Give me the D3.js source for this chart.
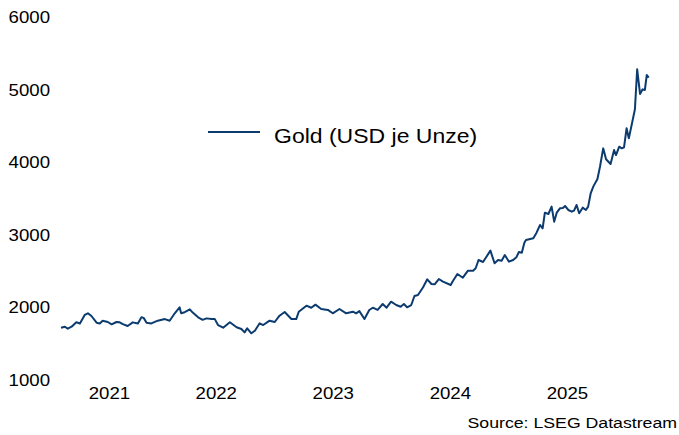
<!DOCTYPE html>
<html>
<head>
<meta charset="utf-8">
<script src="https://cdn.jsdelivr.net/npm/d3@7"></script>
<style>
  body { margin: 0; background: #fff; }
  text { font-family: "Liberation Sans", Arial, sans-serif; fill: #000; }
</style>
</head>
<body>
<div id="chart"></div>
<script>
const width = 679
const height = 435
const stretch = 1.15 // the original text is drawn a bit wider than normal

const dates = [
  '2021-03-05', '2021-03-17', '2021-03-26', '2021-04-07', '2021-04-22', '2021-05-03', '2021-05-18', '2021-05-28',
  '2021-06-08', '2021-06-24', '2021-07-04', '2021-07-13', '2021-07-29', '2021-08-10', '2021-08-25', '2021-09-04',
  '2021-09-14', '2021-09-29', '2021-10-15', '2021-10-31', '2021-11-11', '2021-11-18', '2021-11-27', '2021-12-12',
  '2022-01-01', '2022-01-23', '2022-02-07', '2022-02-23', '2022-03-10', '2022-03-15', '2022-03-26', '2022-04-11',
  '2022-04-20', '2022-05-07', '2022-05-21', '2022-06-02', '2022-06-18', '2022-06-28', '2022-07-08', '2022-07-24',
  '2022-08-14', '2022-09-04', '2022-09-19', '2022-09-29', '2022-10-07', '2022-10-20', '2022-10-31', '2022-11-15',
  '2022-11-26', '2022-12-16', '2023-01-01', '2023-01-16', '2023-02-01', '2023-02-22', '2023-03-09', '2023-03-17',
  '2023-04-10', '2023-04-25', '2023-05-08', '2023-05-26', '2023-06-16', '2023-07-01', '2023-07-22', '2023-08-12',
  '2023-09-02', '2023-09-12', '2023-09-22', '2023-10-08', '2023-10-23', '2023-11-03', '2023-11-18', '2023-12-04',
  '2023-12-16', '2023-12-30', '2024-01-15', '2024-01-29', '2024-02-08', '2024-02-18', '2024-03-02', '2024-03-12',
  '2024-03-23', '2024-04-08', '2024-04-21', '2024-05-04', '2024-05-14', '2024-05-27', '2024-06-09', '2024-07-03',
  '2024-07-10', '2024-07-24', '2024-08-10', '2024-08-26', '2024-09-11', '2024-09-19', '2024-09-28', '2024-10-12',
  '2024-11-04', '2024-11-17', '2024-11-28', '2024-12-09', '2024-12-19', '2025-01-01', '2025-01-14', '2025-01-24',
  '2025-02-01', '2025-02-10', '2025-02-18', '2025-02-23', '2025-03-18', '2025-03-28', '2025-04-08', '2025-04-16',
  '2025-04-23', '2025-05-04', '2025-05-14', '2025-05-22', '2025-05-30', '2025-06-09', '2025-06-18', '2025-06-25',
  '2025-07-05', '2025-07-16', '2025-07-23', '2025-07-31', '2025-08-08', '2025-08-19', '2025-08-29', '2025-09-05',
  '2025-09-13', '2025-09-21', '2025-10-04', '2025-10-12', '2025-10-22', '2025-10-31', '2025-11-14', '2025-11-25',
  '2025-12-01', '2025-12-11', '2025-12-19', '2025-12-26', '2026-01-03', '2026-01-10', '2026-01-29', '2026-02-05',
  '2026-02-14', '2026-02-22', '2026-03-01', '2026-03-07', '2026-03-13'
]

const gold = [
  1721, 1735, 1708, 1735, 1796, 1780, 1897, 1920,
  1883, 1790, 1780, 1818, 1800, 1768, 1800, 1795,
  1770, 1745, 1795, 1780, 1865, 1857, 1790, 1780,
  1818, 1840, 1818, 1920, 2003, 1920, 1935, 1975,
  1930, 1865, 1830, 1850, 1840, 1840, 1758, 1721,
  1796, 1727, 1703, 1657, 1713, 1644, 1680, 1782,
  1758, 1818, 1800, 1887, 1938, 1841, 1840, 1942,
  2025, 1997, 2039, 1979, 1967, 1920, 1979, 1920,
  1942, 1920, 1950, 1841, 1965, 1997, 1966, 2048,
  1997, 2080, 2034, 2011, 2048, 2003, 2034, 2159,
  2172, 2279, 2389, 2324, 2320, 2393, 2356, 2310,
  2365, 2462, 2411, 2508, 2508, 2541, 2655, 2628,
  2784, 2610, 2655, 2645, 2724, 2632, 2655, 2692,
  2766, 2756, 2894, 2931, 2954, 3032, 3138, 3092,
  3308, 3290, 3391, 3184, 3308, 3368, 3372, 3400,
  3345, 3322, 3336, 3414, 3299, 3377, 3345, 3391,
  3575, 3667, 3773, 3942, 4195, 4044, 3979, 4172,
  4103, 4218, 4195, 4210, 4472, 4333, 4734, 5285,
  4945, 5009, 5000, 5207, 5170
]

const yTicks = [1000, 2000, 3000, 4000, 5000, 6000]
const yearLabels = ['2021', '2022', '2023', '2024', '2025']
const seriesName = 'Gold (USD je Unze)'
const source = 'Source: LSEG Datastream'

const parse = d3.timeParse('%Y-%m-%d')
const data = dates.map((d, i) => ({ date: parse(d), value: gold[i] }))

const x = d3.scaleTime()
  .domain(d3.extent(data, d => d.date))
  .range([61, 648.7])

const y = d3.scaleLinear()
  .domain([1000, 6000])
  .range([380, 17.5])

const svg = d3.select('#chart')
  .append('svg')
  .attr('width', width)
  .attr('height', height)

// y labels, no axis line
svg.append('g')
  .selectAll('text')
  .data(yTicks)
  .enter()
  .append('text')
  .attr('transform', d => `translate(50, ${y(d) + 5.8}) scale(${stretch}, 1)`)
  .attr('text-anchor', 'end')
  .attr('font-size', 16.2)
  .text(d => d)

// year labels centred in the visible part of each year
const [x0, x1] = x.domain()
svg.append('g')
  .selectAll('text')
  .data(yearLabels)
  .enter()
  .append('text')
  .attr('transform', d => {
    const a = d3.max([x0, new Date(+d, 0, 1)])
    const b = d3.min([x1, new Date(+d + 1, 0, 1)])
    return `translate(${(x(a) + x(b)) / 2}, 399.3) scale(${stretch}, 1)`
  })
  .attr('text-anchor', 'middle')
  .attr('font-size', 16.2)
  .text(d => d)

const line = d3.line()
  .x(d => x(d.date))
  .y(d => y(d.value))

svg.append('path')
  .datum(data)
  .attr('d', line)
  .attr('fill', 'none')
  .attr('stroke', '#0b3b6f')
  .attr('stroke-width', 2)
  .attr('stroke-linejoin', 'round')

// legend
const legend = svg.append('g')
legend.append('line')
  .attr('x1', 208)
  .attr('x2', 260)
  .attr('y1', 132)
  .attr('y2', 132)
  .attr('stroke', '#0b3b6f')
  .attr('stroke-width', 2)
legend.append('text')
  .attr('transform', `translate(274, 142.5) scale(${stretch}, 1)`)
  .attr('font-size', 20)
  .text(seriesName)

svg.append('text')
  .attr('transform', `translate(677, 427.5) scale(${stretch}, 1)`)
  .attr('text-anchor', 'end')
  .attr('font-size', 15.4)
  .text(source)
</script>
</body>
</html>
